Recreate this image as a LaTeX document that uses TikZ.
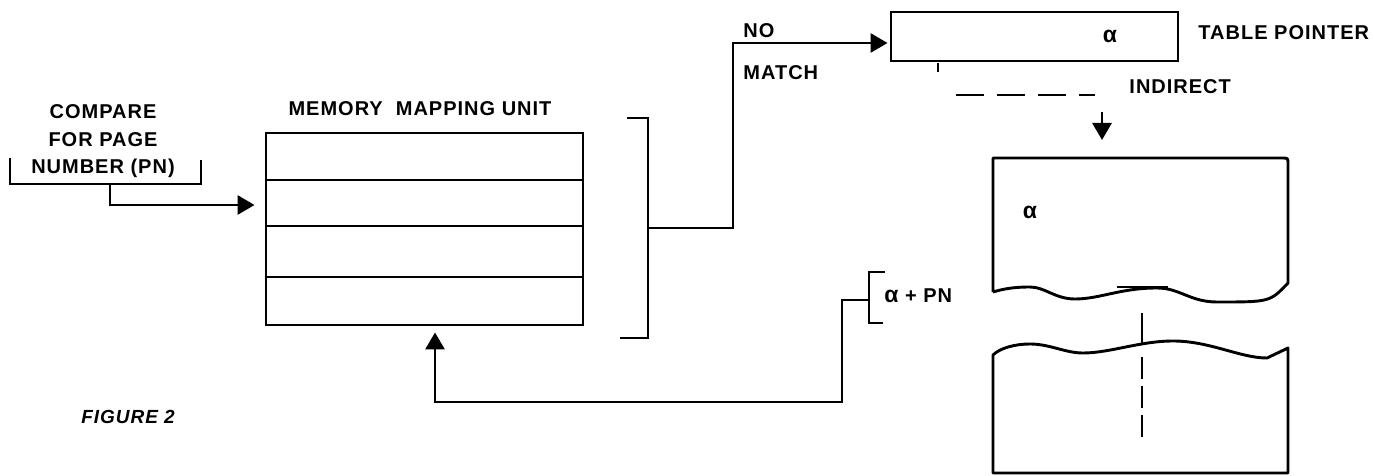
\documentclass[tikz,border=0pt]{standalone}
\usepackage{fontspec}
\setmainfont{Liberation Sans}[LetterSpace=5]
\usetikzlibrary{arrows.meta}
\begin{document}
\begin{tikzpicture}[x=1pt,y=-1pt,line width=2.9pt,
  lbl/.style={font=\fontsize{20}{27.7}\selectfont\bfseries, inner sep=0pt},
  alph/.style={font=\fontsize{23}{26}\selectfont\bfseries, inner sep=0pt},
  arr/.style={-{Triangle[length=17pt,width=19pt]}},
  box/.style={draw, inner sep=0pt},
  dashline/.style={dash pattern=on 28pt off 13pt},
  vdash/.style={dash pattern=on 22pt off 7pt}]
\useasboundingbox (0,0) rectangle (1374,476);

% texts
\node[lbl, align=center, anchor=north] (cmp) at (103,103) {COMPARE\\FOR PAGE\\NUMBER (PN)};
\node[lbl] (mmutitle) at (420,108.5) {MEMORY\ \ MAPPING UNIT};
\node[lbl, anchor=west] (no) at (742,31) {NO};
\node[lbl, anchor=west] (match) at (742,72.5) {MATCH};
\node[lbl, anchor=west] (tpl) at (1197,32.5) {TABLE POINTER};
\node[lbl, anchor=west] (ind) at (1128,86.5) {INDIRECT};
\node[alph] (alpha2) at (1030,212) {α};
\node[lbl, anchor=west] (apn) at (883,296) {{\fontsize{23}{26}\selectfont α} + PN};
\node[lbl, anchor=west, font=\fontsize{19}{22}\selectfont\bfseries\itshape] (fig) at (80,417) {FIGURE 2};

% memory mapping unit
\node[box, minimum width=317pt, minimum height=192pt] (mmu) at (424.5,229) {};
\foreach \yy in {180,226,277} \draw (mmu.west |- 0,\yy) -- (mmu.east |- 0,\yy);

% table pointer
\node[box, minimum width=287pt, minimum height=49pt] (tp) at (1034.5,36.5) {};
\node[alph] (alpha1) at (1110,36) {α};

% compare bracket and arrow
\coordinate (cmpstem) at (110,184);
\draw (10,158) -- (10,184) -- (201,184) -- (201,160);
\draw[arr, shorten >=10pt] (cmpstem) |- (mmu.west |- 0,205);

% right bracket and no match arrow
\coordinate (brm) at (648,228);
\draw (627,118) -- (648,118) -- (648,338) -- (620,338);
\coordinate (nm) at (733,228);
\draw[arr, shorten >=2pt] (brm) -- (nm) |- (tp.west |- 0,43);

% indirect
\coordinate (tick1) at (938,63);
\coordinate (tick2) at (938,72);
\draw (tick1) -- (tick2);
\coordinate (d1) at (956,95);
\coordinate (d2) at (1095,95);
\draw[dashline] (d1) -- (d2);
\coordinate (ia) at (1102,112);
\coordinate (ib) at (1102,140);
\draw[arr] (ia) -- (ib);

% document shape upper
\draw[line join=round] (993,292) -- (993,158) -- (1282,158) .. controls (1288,158) .. (1288,164) -- (1288,283)
  .. controls (1270,302) .. (1217,302)
  .. controls (1190,302) and (1180,288) .. (1157,288)
  .. controls (1120,288) and (1100,299) .. (1075,299)
  .. controls (1055,299) and (1045,287) .. (1030,287)
  .. controls (1010,287) and (1000,290) .. (993,292);
\draw (1117,287) -- (1168,287);
% document shape lower
\draw[line join=round] (993,473) -- (993,355)
  .. controls (1000,348) and (1015,344) .. (1030,344)
  .. controls (1050,344) and (1065,353) .. (1083,353)
  .. controls (1110,353) and (1140,341) .. (1173,341)
  .. controls (1210,341) and (1240,358) .. (1267,358)
  -- (1288,348) -- (1288,473) -- cycle;
\draw (1142,313) -- (1142,343);
\draw[vdash] (1142,357) -- (1142,438);

% alpha + PN bracket and feedback
\draw (885,272) -- (869,272) -- (869,323) -- (883,323);
\coordinate (apstem) at (869,300);
\coordinate (fb1) at (842,300);
\coordinate (fb2) at (842,402);
\coordinate (fb3) at (435,402);
\draw[arr, shorten >=6pt] (apstem) -- (fb1) -- (fb2) -- (fb3) -- (fb3 |- mmu.south);
\end{tikzpicture}
\end{document}
